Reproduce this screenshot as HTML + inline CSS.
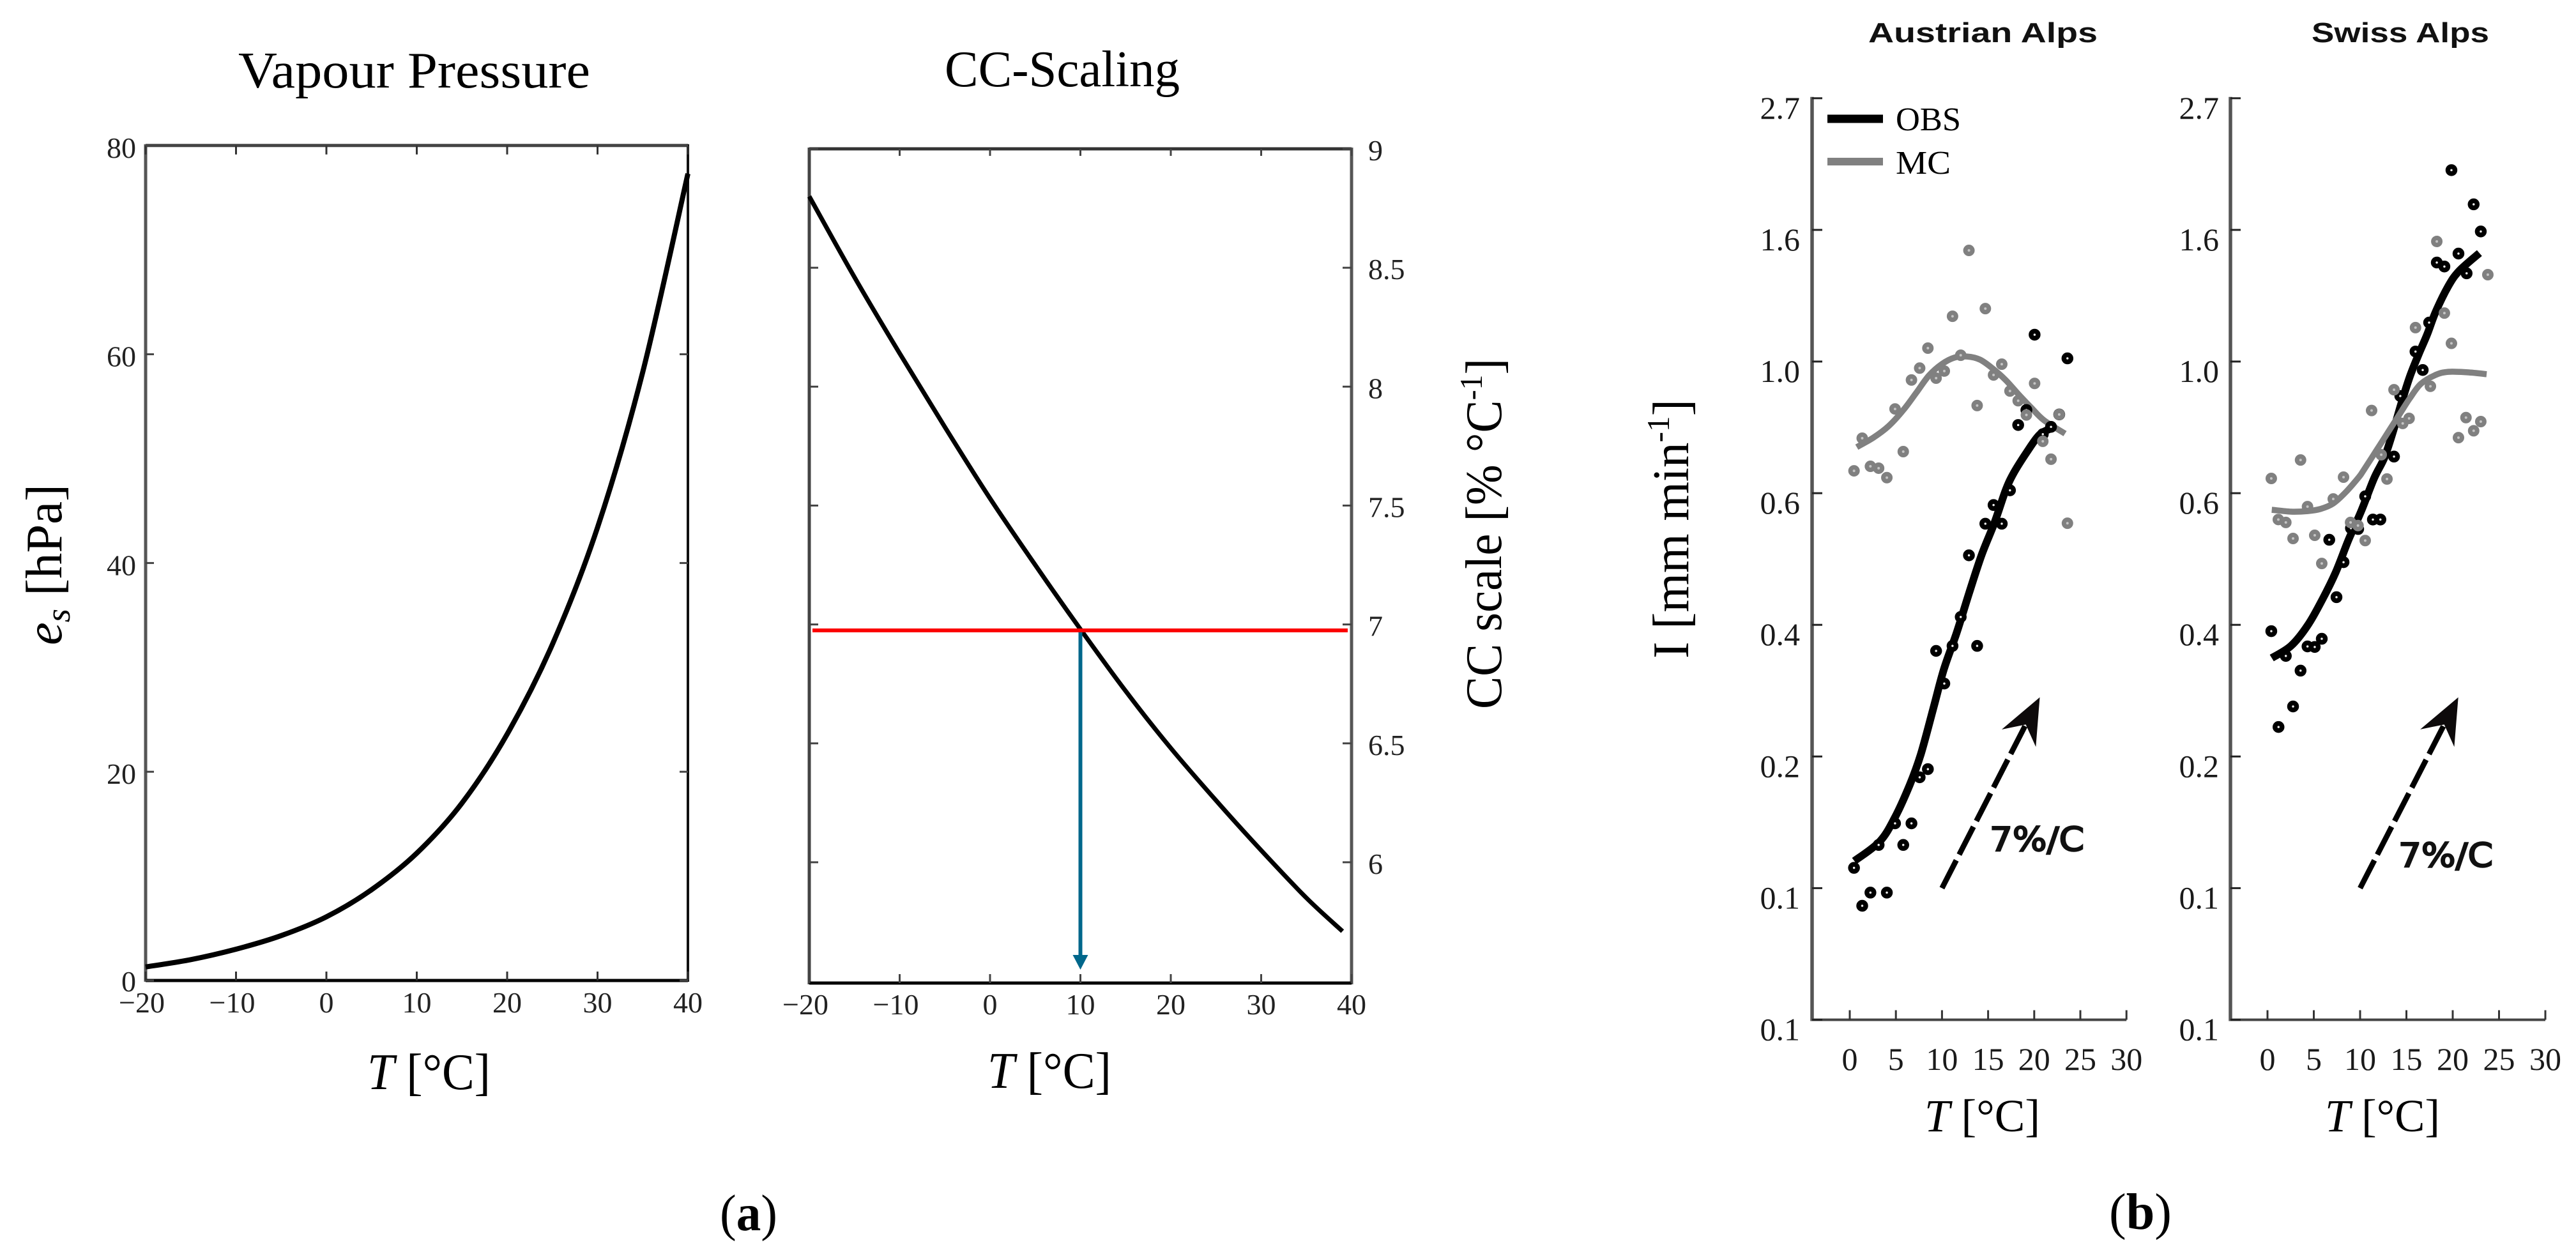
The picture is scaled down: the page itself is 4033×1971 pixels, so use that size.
<!DOCTYPE html>
<html lang="en">
<head>
<meta charset="utf-8">
<title>Vapour pressure, CC-scaling and Alpine rainfall intensity</title>
<style>
html,body{margin:0;padding:0;background:#fff}
svg{display:block}
text{font-family:"Liberation Serif",serif;fill:#000}
.tick{font-size:46px;fill:#222}
.atick{font-size:50px;fill:#1a1a1a}
.lab{font-size:80px}
.alp{font-family:"Liberation Sans",sans-serif;font-size:44px;font-weight:bold;fill:#111}
.rate{font-family:"DejaVu Sans",sans-serif;font-size:52px;fill:#111;stroke:#111;stroke-width:2.4px}
</style>
</head>
<body>
<svg id="fig" xmlns="http://www.w3.org/2000/svg" width="4033" height="1971" viewBox="0 0 4033 1971">
<rect width="4033" height="1971" fill="#fff"/>

<g id="vp">
<text x="373" y="137" class="lab" textLength="551" lengthAdjust="spacingAndGlyphs">Vapour Pressure</text>
<text transform="translate(96,1010) rotate(-90)" class="lab" textLength="252" lengthAdjust="spacingAndGlyphs"><tspan font-style="italic">e</tspan><tspan font-style="italic" font-size="54" dy="13">s</tspan><tspan dy="-13"> [hPa]</tspan></text>
<text x="575" y="1705" class="lab" textLength="193" lengthAdjust="spacingAndGlyphs"><tspan font-style="italic">T</tspan> [°C]</text>
</g>

<g id="cc">
<text x="1479" y="135" class="lab" textLength="368" lengthAdjust="spacingAndGlyphs">CC-Scaling</text>
<text transform="translate(2350,1110) rotate(-90)" class="lab" textLength="549" lengthAdjust="spacingAndGlyphs">CC scale [% °C<tspan font-size="50" dy="-30">-1</tspan><tspan dy="30">]</tspan></text>
<text x="1546" y="1703" class="lab" textLength="194" lengthAdjust="spacingAndGlyphs"><tspan font-style="italic">T</tspan> [°C]</text>
</g>

<text x="1127" y="1926" class="lab" textLength="90" lengthAdjust="spacingAndGlyphs">(<tspan font-weight="bold">a</tspan>)</text>

<text transform="translate(2643,1031) rotate(-90)" class="lab" textLength="406" lengthAdjust="spacingAndGlyphs">I [mm min<tspan font-size="50" dy="-30">-1</tspan><tspan dy="30">]</tspan></text>

<g id="at">
<text x="2925" y="66" class="alp" textLength="359" lengthAdjust="spacingAndGlyphs">Austrian Alps</text>
<text x="3013" y="1771" class="lab" style="font-size:72px" textLength="181" lengthAdjust="spacingAndGlyphs"><tspan font-style="italic">T</tspan> [°C]</text>
<text x="3115" y="1332" class="rate" textLength="148" lengthAdjust="spacingAndGlyphs">7%/C</text>
</g>

<g id="ch">
<text x="3619" y="66" class="alp" textLength="278" lengthAdjust="spacingAndGlyphs">Swiss Alps</text>
<text x="3640" y="1771" class="lab" style="font-size:72px" textLength="180" lengthAdjust="spacingAndGlyphs"><tspan font-style="italic">T</tspan> [°C]</text>
<text x="3755" y="1357" class="rate" textLength="148" lengthAdjust="spacingAndGlyphs">7%/C</text>
</g>

<g id="legend">
<line x1="2861" x2="2948" y1="186" y2="186" stroke="#000" stroke-width="13"/>
<text x="2968" y="204" style="font-size:52px" textLength="102" lengthAdjust="spacingAndGlyphs">OBS</text>
<line x1="2861" x2="2948" y1="253" y2="253" stroke="#808080" stroke-width="12"/>
<text x="2968" y="272" style="font-size:52px" textLength="86" lengthAdjust="spacingAndGlyphs">MC</text>
</g>

<text x="3302" y="1924" class="lab" textLength="98" lengthAdjust="spacingAndGlyphs">(<tspan font-weight="bold">b</tspan>)</text>
</svg>

<script>
// ---------- Vapour pressure ----------
const vpTemps = [-20,-15,-10,-5,0,5,10,15,20,25,30,35,40];
const vpPressure = [1.3,2.0,3.0,4.3,6.1,8.7,12.2,17.0,23.6,32.2,43.4,58.3,77.3];
const vpXTicks = [-20,-10,0,10,20,30,40];
const vpYTicks = [0,20,40,60,80];

// ---------- CC scaling ----------
const ccTemps = [-20,-15,-10,-5,0,5,10,15,20,25,30,35,39];
const ccScale = [8.80,8.46,8.14,7.83,7.53,7.25,6.98,6.72,6.48,6.26,6.05,5.85,5.71];
const ccXTicks = [-20,-10,0,10,20,30,40];
const ccYTicks = ['6','6.5','7','7.5','8','8.5','9'];
const ccReferenceScale = 6.975;
const ccReferenceTemp = 10;

// ---------- Alpine intensity: y axis is logarithmic, values are ln(I) ----------
const alpsTickLn = [1,0.5,0,-0.5,-1,-1.5,-2,-2.5];
const alpsTickLabels = ['2.7','1.6','1.0','0.6','0.4','0.2','0.1','0.1'];
const alpsXTicks = [0,5,10,15,20,25,30];
const arrowStartT = 10;
const arrowStartLn = -2;
const arrowEndT = 20.6;
const arrowEndLn = -1.275;

const atObsT = [0.46,1.35,2.24,3.13,4.02,4.91,5.8,6.69,7.58,8.47,9.36,10.25,11.14,12.03,12.92,13.81,14.7,15.59,16.48,17.37,18.26,19.15,20.04,20.93,21.82,22.71,23.6];
const atObsLn = [-1.923,-2.067,-2.017,-1.836,-2.017,-1.754,-1.836,-1.754,-1.579,-1.548,-1.099,-1.223,-1.080,-0.970,-0.736,-1.080,-0.616,-0.545,-0.616,-0.489,-0.241,-0.184,0.102,-0.276,-0.248,-0.201,0.012];
const atMcT = [0.46,1.35,2.24,3.13,4.02,4.91,5.8,6.69,7.58,8.47,9.36,10.25,11.14,12.03,12.92,13.81,14.7,15.59,16.48,17.37,18.26,19.15,20.04,20.93,21.82,22.71,23.6];
const atMcLn = [-0.415,-0.291,-0.398,-0.405,-0.441,-0.180,-0.342,-0.070,-0.025,0.051,-0.063,-0.036,0.172,0.024,0.422,-0.167,0.201,-0.051,-0.010,-0.112,-0.149,-0.203,-0.083,-0.303,-0.371,-0.201,-0.614];
const atObsFitT = [0.5,3.25,4.9,6.5,7.7,9.1,10.2,11.6,12.95,14.3,15.7,16.9,17.8,19.2,20.6,22];
const atObsFitLn = [-1.897,-1.823,-1.731,-1.608,-1.492,-1.312,-1.169,-1.029,-0.878,-0.734,-0.611,-0.489,-0.422,-0.344,-0.277,-0.252];
const atMcFitT = [0.76,2.56,4.22,5.82,7.2,8.59,9.97,11.36,12.74,14.13,15.51,16.9,18.28,19.67,21.05,23.34];
const atMcFitLn = [-0.325,-0.289,-0.245,-0.184,-0.119,-0.053,-0.010,0.015,0.019,0.007,-0.027,-0.070,-0.124,-0.175,-0.223,-0.274];

const chObsT = [0.41,1.19,1.98,2.76,3.57,4.32,5.10,5.86,6.67,7.45,8.21,9.01,9.79,10.55,11.38,12.19,13.66,14.34,15.98,16.76,17.45,18.28,19.10,19.86,20.62,21.5,22.26,23.03];
const chObsLn = [-1.024,-1.388,-1.118,-1.310,-1.174,-1.082,-1.084,-1.053,-0.677,-0.895,-0.762,-0.633,-0.636,-0.512,-0.600,-0.600,-0.361,-0.131,0.038,-0.032,0.148,0.376,0.361,0.727,0.410,0.335,0.597,0.494];
const chMcT = [0.41,1.17,1.98,2.76,3.57,4.32,5.10,5.86,7.10,8.21,8.97,9.77,10.55,11.24,12.28,12.90,13.66,14.6,15.29,15.98,17.59,18.28,19.10,19.86,20.62,21.43,22.26,23.03,23.79];
const chMcLn = [-0.444,-0.600,-0.611,-0.672,-0.374,-0.551,-0.660,-0.767,-0.522,-0.439,-0.611,-0.623,-0.680,-0.186,-0.354,-0.446,-0.107,-0.235,-0.216,0.129,-0.094,0.456,0.184,0.069,-0.289,-0.213,-0.263,-0.228,0.330];
const chObsFitT = [0.46,2.53,4.34,5.98,7.36,8.74,10.12,11.5,12.62,13.57,14.48,15.38,16.32,17.24,18.14,19.52,20.69,22.88];
const chObsFitLn = [-1.126,-1.080,-1.002,-0.900,-0.801,-0.678,-0.568,-0.444,-0.365,-0.264,-0.155,-0.056,0.027,0.103,0.187,0.286,0.344,0.412];
const chMcFitT = [0.46,2.53,4.34,5.72,7.1,8.48,9.86,10.34,11.72,13.1,14.28,15.38,16.55,18.14,19.52,21.59,23.66];
const chMcFitLn = [-0.563,-0.570,-0.568,-0.560,-0.539,-0.495,-0.439,-0.415,-0.340,-0.264,-0.199,-0.139,-0.085,-0.051,-0.039,-0.041,-0.048];

// ---------- axis functions ----------
const vpX = t => 228 + (t + 20) * 14.15;
const vpY = e => 1535 - e * 16.34;
const ccX = t => 1267 + (t + 20) * 14.15;
const ccY = v => 233 + (9 - v) * 372.3;
const alpsY = ln => 566 - ln * 412.2;
const atX = t => 2896 + t * 14.44;
const chX = t => 3550 + t * 14.5;

const NS = 'http://www.w3.org/2000/svg';
function svgEl(tag, attrs, parent) {
  const el = document.createElementNS(NS, tag);
  for (const k in attrs) el.setAttribute(k, attrs[k]);
  parent.appendChild(el);
  return el;
}
function rule(parent, x1, y1, x2, y2, color, width, name) {
  const el = svgEl('line', {x1, y1, x2, y2, stroke: color, 'stroke-width': width}, parent);
  
  
  return el;
}
function label(parent, x, y, str, cls, anchor, name) {
  const el = svgEl('text', {x, y, class: cls, 'text-anchor': anchor}, parent);
  el.textContent = str;
  
  
  return el;
}
function smoothPath(px, py) {
  let d = 'M' + px[0].toFixed(1) + ' ' + py[0].toFixed(1);
  for (let i = 0; i < px.length - 1; i++) {
    const a = Math.max(i - 1, 0), b = Math.min(i + 2, px.length - 1);
    const c1x = px[i] + (px[i + 1] - px[a]) / 6, c1y = py[i] + (py[i + 1] - py[a]) / 6;
    const c2x = px[i + 1] - (px[b] - px[i]) / 6, c2y = py[i + 1] - (py[b] - py[i]) / 6;
    d += 'C' + c1x.toFixed(1) + ' ' + c1y.toFixed(1) + ' ' + c2x.toFixed(1) + ' ' + c2y.toFixed(1) + ' ' + px[i + 1].toFixed(1) + ' ' + py[i + 1].toFixed(1);
  }
  return d;
}
function curve(parent, xs, ys, xFn, yFn, color, width, name, cap) {
  const el = svgEl('path', {d: smoothPath(xs.map(xFn), ys.map(yFn)), fill: 'none', stroke: color, 'stroke-width': width, 'stroke-linecap': cap || 'butt'}, parent);
  
  
  return el;
}
const minusLabel = t => String(t).replace('-', '\u2212');

// ---------- vapour pressure ----------
(function () {
  const g = document.getElementById('vp');
  const L = vpX(-20), R = vpX(40), T = vpY(80), B = vpY(0);
  rule(g, L, T - 2, L, B + 2, '#555', 5, 'vapour-left-axis');
  rule(g, L, T, R, T, '#444', 5, 'vapour-top-axis');
  rule(g, R, T - 2, R, B + 2, '#111', 4, 'vapour-right-axis');
  rule(g, L, B, R, B, '#000', 5, 'vapour-bottom-axis');
  vpXTicks.forEach(t => {
    rule(g, vpX(t), B, vpX(t), B - 14, '#333', 3, 'vapour-x-tick');
    rule(g, vpX(t), T, vpX(t), T + 14, '#333', 3, 'vapour-top-tick');
    label(g, vpX(t) - (t < 0 ? 6 : 0), 1585, minusLabel(t), 'tick', 'middle', 'vapour-x-tick-label');
  });
  vpYTicks.forEach(v => {
    rule(g, L, vpY(v), L + 13, vpY(v), '#444', 3, 'vapour-y-tick');
    rule(g, R, vpY(v), R - 13, vpY(v), '#444', 3, 'vapour-right-tick');
    label(g, 213, vpY(v) + (v === 0 ? 17 : 19), String(v), 'tick', 'end', 'vapour-y-tick-label');
  });
  curve(g, vpTemps, vpPressure, vpX, vpY, '#000', 8, 'vapour-pressure-curve');
})();

// ---------- CC scaling ----------
(function () {
  const g = document.getElementById('cc');
  const L = ccX(-20), R = ccX(40), T = ccY(9), B = 1539;
  rule(g, L, T - 2, L, B + 2, '#444', 5, 'cc-left-axis');
  rule(g, L, T, R, T, '#333', 5, 'cc-top-axis');
  rule(g, R, T - 2, R, B + 2, '#555', 5, 'cc-right-axis');
  rule(g, L, B, R, B, '#000', 5, 'cc-bottom-axis');
  ccXTicks.forEach(t => {
    rule(g, ccX(t), B, ccX(t), B - 14, '#444', 3, 'cc-x-tick');
    rule(g, ccX(t), T, ccX(t), T + 11, '#444', 3, 'cc-top-tick');
    label(g, ccX(t) - (t < 0 ? 6 : 0), 1588, minusLabel(t), 'tick', 'middle', 'cc-x-tick-label');
  });
  ccYTicks.forEach(s => {
    const y = ccY(parseFloat(s));
    rule(g, L, y, L + 14, y, '#444', 3, 'cc-left-tick');
    rule(g, R, y, R - 14, y, '#444', 3, 'cc-right-tick');
    label(g, 2142, y + 18, s, 'tick', 'start', 'cc-y-tick-label');
  });
  curve(g, ccTemps, ccScale, ccX, ccY, '#000', 7, 'cc-scaling-curve');
  const ax = ccX(ccReferenceTemp), ay = ccY(ccReferenceScale);
  rule(g, ax, ay, ax, 1500, '#00678b', 6, 'cc-reference-arrow-shaft');
  const head = svgEl('polygon', {points: (ax - 12) + ',1495 ' + (ax + 12) + ',1495 ' + ax + ',1518', fill: '#00678b'}, g);
  
  
  rule(g, 1272, ay, 2110, ay, '#fb0000', 6, 'cc-reference-line');
})();

// ---------- alpine panels ----------
function drawAlps(id, prefix, xFn, axisX, labelEnd, obsT, obsLn, mcT, mcLn, obsFitT, obsFitLn, mcFitT, mcFitLn) {
  const g = document.getElementById(id);
  const top = alpsY(alpsTickLn[0]), bottom = alpsY(alpsTickLn[alpsTickLn.length - 1]);
  rule(g, axisX, top - 2, axisX, bottom + 2, '#555', 5.5, prefix + '-y-axis');
  rule(g, axisX, bottom, xFn(30), bottom, '#444', 4, prefix + '-x-axis');
  alpsTickLn.forEach((ln, i) => {
    rule(g, axisX, alpsY(ln), axisX + 16, alpsY(ln), '#222', 3, prefix + '-y-tick');
    label(g, labelEnd, alpsY(ln) + 32, alpsTickLabels[i], 'atick', 'end', prefix + '-y-tick-label');
  });
  alpsXTicks.forEach(t => {
    rule(g, xFn(t), bottom, xFn(t), bottom - 15, '#333', 3, prefix + '-x-tick');
    label(g, xFn(t), 1675, String(t), 'atick', 'middle', prefix + '-x-tick-label');
  });
  curve(g, obsFitT, obsFitLn, xFn, alpsY, '#000', 12, prefix + '-obs-fit-line');
  curve(g, mcFitT, mcFitLn, xFn, alpsY, '#808080', 9.5, prefix + '-mc-fit-line');
  obsT.forEach((t, i) => {
    const c = svgEl('circle', {cx: xFn(t), cy: alpsY(obsLn[i]), r: 5.5, fill: '#eee', stroke: '#000', 'stroke-width': 7.5}, g);
    
    
  });
  mcT.forEach((t, i) => {
    const c = svgEl('circle', {cx: xFn(t), cy: alpsY(mcLn[i]), r: 5.5, fill: '#c4c4c4', stroke: '#808080', 'stroke-width': 7}, g);
    
    
  });
  // 7 %/C guide arrow
  const x0 = xFn(arrowStartT), y0 = alpsY(arrowStartLn), x1 = xFn(arrowEndT), y1 = alpsY(arrowEndLn);
  const len = Math.hypot(x1 - x0, y1 - y0), ux = (x1 - x0) / len, uy = (y1 - y0) / len;
  const shaft = svgEl('line', {x1: x0, y1: y0, x2: x1 - ux * 45, y2: y1 - uy * 45, stroke: '#000', 'stroke-width': 8.5, 'stroke-dasharray': '49 10'}, g);
  
  
  const px = -uy, py = ux;
  const pt = (back, side) => (x1 - ux * back + px * side).toFixed(1) + ',' + (y1 - uy * back + py * side).toFixed(1);
  const head = svgEl('polygon', {points: pt(0, 0) + ' ' + pt(72, -30) + ' ' + pt(48, 0) + ' ' + pt(72, 30), fill: '#0d0a0b'}, g);
  
  
}
drawAlps('at', 'austrian', atX, 2837, 2818, atObsT, atObsLn, atMcT, atMcLn, atObsFitT, atObsFitLn, atMcFitT, atMcFitLn);
drawAlps('ch', 'swiss', chX, 3492, 3474, chObsT, chObsLn, chMcT, chMcLn, chObsFitT, chObsFitLn, chMcFitT, chMcFitLn);
</script>
</body>
</html>
